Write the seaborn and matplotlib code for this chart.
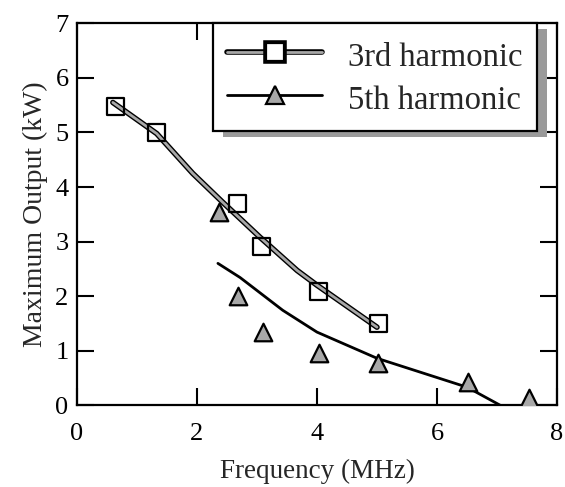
import numpy as np
import pandas as pd
import seaborn as sns
import matplotlib
matplotlib.use("Agg")
import matplotlib.pyplot as plt
import matplotlib.patheffects as pe
from matplotlib.lines import Line2D
from matplotlib.patches import Rectangle
from matplotlib.transforms import IdentityTransform

# measured points
freq3 = [0.65, 1.33, 2.68, 3.08, 4.02, 5.02]
out3 = [5.48, 5.0, 3.7, 2.91, 2.09, 1.5]
freq5 = [2.37, 2.68, 3.1, 4.03, 5.02, 6.52, 7.53]
out5 = [3.55, 2.01, 1.34, 0.95, 0.77, 0.42, 0.13]
# fitted curves
fit3_x = [0.6, 1.33, 1.93, 2.43, 3.05, 3.67, 4.0, 5.0]
fit3_y = [5.55, 4.98, 4.25, 3.72, 3.08, 2.47, 2.2, 1.43]
fit5_x = [2.35, 2.72, 3.43, 4.0, 5.0, 6.5, 7.05]
fit5_y = [2.6, 2.34, 1.74, 1.34, 0.86, 0.33, 0.0]

sns.set_theme(style="ticks")
plt.rcParams['font.family'] = ['Liberation Serif', 'DejaVu Serif']

fig = plt.figure(figsize=(5.65, 4.87), dpi=100)
ax = fig.add_axes([0.136, 0.168, 0.85, 0.784])

df3f = pd.DataFrame({"x": fit3_x, "y": fit3_y})
df5f = pd.DataFrame({"x": fit5_x, "y": fit5_y})
df3 = pd.DataFrame({"x": freq3, "y": out3})
df5 = pd.DataFrame({"x": freq5, "y": out5})

gray = "#a8a8a8"
double = [pe.Stroke(linewidth=4.0, foreground="black"), pe.Normal()]

sns.lineplot(data=df3f, x="x", y="y", ax=ax, color=gray, lw=2.0,
             path_effects=double, zorder=3)
sns.lineplot(data=df5f, x="x", y="y", ax=ax, color="black", lw=2.0, zorder=3)
sns.scatterplot(data=df3, x="x", y="y", ax=ax, marker="s", s=150,
                facecolor="none", edgecolor="black", linewidth=1.6, zorder=4)
sns.scatterplot(data=df5, x="x", y="y", ax=ax, marker="^", s=160,
                color=gray, edgecolor="black", linewidth=1.6, zorder=4)

ax.set_xlim(0, 8)
ax.set_ylim(0, 7)
ax.set_xticks([0, 2, 4, 6, 8])
ax.set_yticks(range(0, 8))
ax.tick_params(direction="in", length=12, width=1.5, top=True, right=True,
               labelsize=19, colors="black")
ax.tick_params(axis="x", pad=13)
ax.tick_params(axis="y", pad=6)
for s in ax.spines.values():
    s.set_linewidth(1.6)
    s.set_color("black")
ax.set_xlabel("Frequency (MHz)", fontsize=19.5, labelpad=10)
ax.set_ylabel("Maximum Output (kW)", fontsize=20, labelpad=5)

h3 = Line2D([], [], color=gray, lw=2.0, marker="s", markersize=13,
            markerfacecolor="white", markeredgecolor="black",
            markeredgewidth=1.6, path_effects=double)
h5 = Line2D([], [], color="black", lw=2.0, marker="^", markersize=13,
            markerfacecolor=gray, markeredgecolor="black", markeredgewidth=1.6)
leg = ax.legend([h3, h5], ["3rd harmonic", "5th harmonic"], loc="upper left",
                bbox_to_anchor=(0.283, 1.0), borderaxespad=0, fontsize=23.5,
                handlelength=2.9, handletextpad=0.8, handleheight=1.25,
                frameon=True, fancybox=False, shadow=False, framealpha=1,
                edgecolor="black", borderpad=0.45, labelspacing=0.24)
leg.get_frame().set_linewidth(1.6)
leg.set_zorder(6)

fig.canvas.draw()
bb = leg.get_window_extent()
shadow = Rectangle((bb.x0 + 10, bb.y0 - 6), bb.width, bb.height,
                   transform=IdentityTransform(), facecolor="#9a9a9a",
                   edgecolor="none", zorder=5.5, clip_on=False)
ax.add_artist(shadow)

fig.savefig("out.png", dpi=100)
